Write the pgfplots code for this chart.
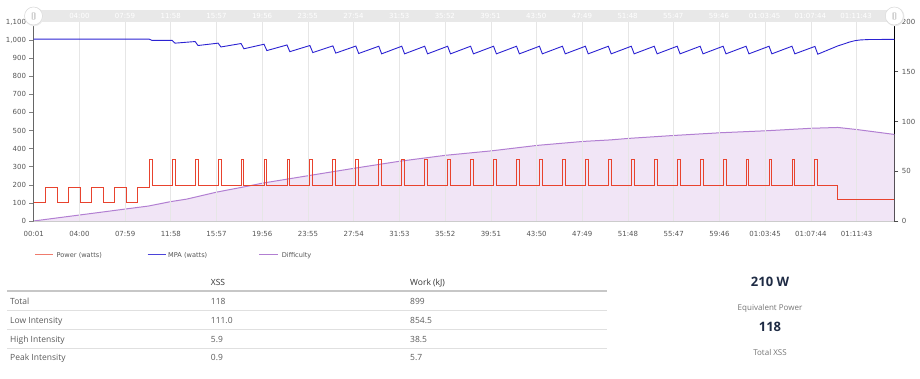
\documentclass[border=0pt]{standalone}
\usepackage{fontspec}
\setmainfont{DejaVu Sans}
\newfontfamily\osans{Open Sans}
\usepackage{pgfplots}
\pgfplotsset{compat=1.18}
\definecolor{powc}{HTML}{E8432E}
\definecolor{mpac}{HTML}{2B22D2}
\definecolor{difc}{HTML}{B27FD2}
\definecolor{diffill}{HTML}{F1E5F6}
\definecolor{gridc}{HTML}{E6E6E6}
\definecolor{tickc}{HTML}{555555}
\definecolor{navc}{HTML}{E8E8E8}
\definecolor{tabtxt}{HTML}{5A5A5A}
\definecolor{navy}{HTML}{1E2B44}
\begin{document}
\begin{tikzpicture}
\begin{scope}[x=1pt,y=1pt]
\path[use as bounding box] (0,0) rectangle (920,379);
% navigator band
\fill[navc] (33.5,356.7) rectangle (894.3,369);
\foreach \t/\l in {240/04:00,479/07:59,718/11:58,957/15:57,1196/19:56,1435/23:55,1674/27:54,1913/31:53,2152/35:52,2391/39:51,2630/43:50,2869/47:49,3108/51:48,3347/55:47,3586/59:46,3825/01:03:45,4064/01:07:44,4303/01:11:43}
  {\node[white,font=\fontsize{7}{8}\selectfont,inner sep=0] at ({33.5+0.19114*\t},362.7) {\l};}
\end{scope}
% right axis: difficulty
\begin{axis}[at={(33.5pt,158pt)}, anchor=south west, scale only axis,
  width=860.8pt, height=199pt,
  xmin=0, xmax=4500, ymin=0, ymax=200,
  axis x line=none, axis y line*=right,
  y axis line style={black, line width=1.3pt, -},
  ytick={0,50,100,150,200}, tick align=outside, major tick length=4pt,
  ytick style={black!70, line width=0.6pt},
  yticklabel style={font=\fontsize{7}{8}\selectfont, color=tickc},
  /pgf/number format/assume math mode=true]
\addplot[fill=diffill, draw=none] coordinates {
(0,0)(120,3)(240,6)(360,9)(479,12)(600,15)(718,19.5)(801,22)(957,29)(1133,35.5)(1196,38)(1435,45.5)(1677,53)(1912,60)(2153,66)(2394,70.5)(2634,76)(2875,80)(3016,81.5)(3110,83)(3351,86)(3592,88.7)(3832,90.7)(4068,93.2)(4205,94)(4309,91.8)(4500,87)
} \closedcycle;
\addplot[difc, line width=1pt] coordinates {
(0,0)(120,3)(240,6)(360,9)(479,12)(600,15)(718,19.5)(801,22)(957,29)(1133,35.5)(1196,38)(1435,45.5)(1677,53)(1912,60)(2153,66)(2394,70.5)(2634,76)(2875,80)(3016,81.5)(3110,83)(3351,86)(3592,88.7)(3832,90.7)(4068,93.2)(4205,94)(4309,91.8)(4500,87)
};
\end{axis}
% left axis: power and MPA
\begin{axis}[at={(33.5pt,158pt)}, anchor=south west, scale only axis,
  width=860.8pt, height=199pt,
  xmin=0, xmax=4500, ymin=0, ymax=1100,
  axis x line*=bottom, axis y line*=left,
  x axis line style={black!20, line width=0.6pt, -},
  y axis line style={black!60, line width=1.6pt, -},
  xtick={1,240,479,718,957,1196,1435,1674,1913,2152,2391,2630,2869,3108,3347,3586,3825,4064,4303},
  xticklabels={00:01,04:00,07:59,11:58,15:57,19:56,23:55,27:54,31:53,35:52,39:51,43:50,47:49,51:48,55:47,59:46,01:03:45,01:07:44,01:11:43},
  xtick style={draw=none},
  xmajorgrids, grid style={gridc, line width=0.7pt},
  ytick={0,100,...,1100},
  tick align=outside, major tick length=4pt,
  ytick style={black!50, line width=0.6pt},
  ticklabel style={font=\fontsize{7}{8}\selectfont, color=tickc},
  xticklabel style={yshift=-3pt},
  /pgf/number format/assume math mode=true,
  /pgf/number format/1000 sep={,}]
\addplot[const plot, powc, line width=0.9pt] coordinates {
(0,100)(65,183)(125,100)(185,183)(245,100)(305,183)(365,100)(425,183)(485,100)(545,183)
(605,342)(620,197)(725,342)(740,197)(845,342)(860,197)(965,342)(980,197)(1085,342)(1100,197)
(1205,342)(1220,197)(1325,342)(1340,197)(1445,342)(1460,197)(1565,342)(1580,197)(1685,342)(1700,197)
(1805,342)(1820,197)(1925,342)(1940,197)(2045,342)(2060,197)(2165,342)(2180,197)(2285,342)(2300,197)
(2405,342)(2420,197)(2525,342)(2540,197)(2645,342)(2660,197)(2765,342)(2780,197)(2885,342)(2900,197)
(3005,342)(3020,197)(3125,342)(3140,197)(3245,342)(3260,197)(3365,342)(3380,197)(3485,342)(3500,197)
(3605,342)(3620,197)(3725,342)(3740,197)(3845,342)(3860,197)(3965,342)(3980,197)(4085,342)(4100,197)
(4205,120)(4500,120)
};
\addplot[mpac, line width=0.9pt] coordinates {
(0,1005)(605,1005)(620,998)(725,998)(740,983)(845,992)(860,970)(965,983)(980,962)(1085,981)(1100,952)
(1205,977)(1220,942)(1325,973)(1340,936)(1445,970)(1460,931)(1565,968)(1580,928)(1685,967)(1700,926)
(1805,966)(1820,924)(1925,966)(1940,924)(2045,966)(2060,924)(2165,966)(2180,924)(2285,966)(2300,924)
(2405,966)(2420,924)(2525,966)(2540,924)(2645,966)(2660,924)(2765,966)(2780,924)(2885,966)(2900,924)
(3005,966)(3020,924)(3125,966)(3140,924)(3245,966)(3260,924)(3365,966)(3380,924)(3485,966)(3500,924)
(3605,966)(3620,924)(3725,966)(3740,924)(3845,966)(3860,924)(3965,966)(3980,924)(4085,965)(4100,922)
(4205,968)(4235,978)(4265,989)(4295,997)(4325,1001)(4365,1003)(4500,1004)
};
\end{axis}
\begin{scope}[x=1pt,y=1pt]
% navigator handles
\foreach \hx in {33.5,894.3}{
  \fill[black!8] (\hx+0.6,362.4) circle (9.6);
  \filldraw[fill=white, draw=black!15, line width=0.5pt] (\hx,363) circle (9);
  \fill[black!18, rounded corners=0.8pt] (\hx-2,359.3) rectangle (\hx+2,366.7);
  \draw[white, line width=0.6pt] (\hx,360) -- (\hx,366);
}
% legend
\begin{scope}[every node/.style={font=\fontsize{6.6}{8}\selectfont, color=tickc, anchor=west, inner sep=0, text height=4.8pt, text depth=0pt}]
\draw[powc!70, line width=1pt] (35,124) -- (53,124);
\node at (56.5,124) {Power (watts)};
\draw[mpac!85, line width=1pt] (147.7,124) -- (165.7,124);
\node at (168,124) {MPA (watts)};
\draw[difc, line width=1pt] (259,124) -- (277.7,124);
\node at (281.7,124) {Difficulty};
\end{scope}
% table
\draw[black!22, line width=1.1pt] (7,88) -- (607,88);
\foreach \yy in {68.7,49.7,30.7}{\draw[black!12, line width=0.8pt] (7,\yy) -- (607,\yy);}
\begin{scope}[every node/.style={font=\osans\fontsize{8.5}{10}\selectfont, color=tabtxt, anchor=west, inner sep=0, text height=6.1pt, text depth=0pt}]
\node[color=black!80] at (210.7,96.3) {XSS};
\node[color=black!80] at (410,96.3) {Work (kJ)};
\node at (10,78) {Total};          \node at (210.7,78) {118};   \node at (410,78) {899};
\node at (10,59) {Low Intensity};  \node at (210.7,59) {111.0}; \node at (410,59) {854.5};
\node at (10,40) {High Intensity}; \node at (210.7,40) {5.9};   \node at (410,40) {38.5};
\node at (10,21.3) {Peak Intensity}; \node at (210.7,21.3) {0.9}; \node at (410,21.3) {5.7};
\end{scope}
% right panel
\node[font=\osans\bfseries\fontsize{13}{15}\selectfont, color=navy, inner sep=0, text height=9.3pt, text depth=0pt] at (770,97.3) {210 W};
\node[font=\osans\fontsize{8}{10}\selectfont, color=black!55, inner sep=0, text height=5.8pt, text depth=0pt] at (770,71.3) {Equivalent Power};
\node[font=\osans\bfseries\fontsize{13}{15}\selectfont, color=navy, inner sep=0, text height=9.3pt, text depth=0pt] at (770,52.3) {118};
\node[font=\osans\fontsize{8}{10}\selectfont, color=black!55, inner sep=0, text height=5.8pt, text depth=0pt] at (770,26.3) {Total XSS};
\end{scope}
\end{tikzpicture}
\end{document}
